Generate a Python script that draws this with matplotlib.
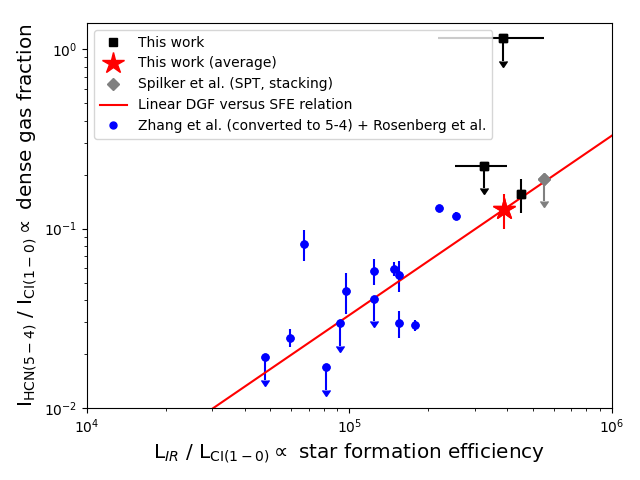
import numpy as np
import matplotlib
matplotlib.use("Agg")
import matplotlib.pyplot as plt

# This work (upper limits with x errors)
tw_ul_x = [385000, 325000]
tw_ul_y = [1.15, 0.224]
tw_ul_xerr = [168000, 73000]
# This work (detection)
tw_x = [450000]
tw_y = [0.156]
tw_yerr = [0.034]
# This work average
avg_x = [388000]
avg_y = [0.128]
avg_yerr = [0.028]
# Spilker stacking (upper limit)
sp_x = [551000]
sp_y = [0.19]
# Zhang + Rosenberg detections
z_x = [59300, 67300, 97200, 124000, 148000, 155000, 155000, 178000, 220000, 255000]
z_y = [0.0247, 0.0822, 0.0451, 0.0584, 0.0597, 0.0553, 0.0296, 0.0289, 0.130, 0.118]
z_yerr = [0.0027, 0.0163, 0.0117, 0.0096, 0.0054, 0.0108, 0.005, 0.0022, 0.002, 0.006]
# Zhang + Rosenberg upper limits
zu_x = [47700, 81400, 92200, 124000]
zu_y = [0.01915, 0.01683, 0.0296, 0.0407]

ul_frac = 0.25

fig, ax = plt.subplots(figsize=(6.4, 4.8), dpi=100)
ax.set_xscale('log')
ax.set_yscale('log')

ax.errorbar(tw_ul_x, tw_ul_y, xerr=tw_ul_xerr, yerr=[ul_frac * v for v in tw_ul_y],
            uplims=True, fmt='ks')
ax.errorbar(tw_x, tw_y, yerr=tw_yerr, fmt='ks')
ax.errorbar(avg_x, avg_y, yerr=avg_yerr, fmt='r*', markersize=16)
ax.errorbar(sp_x, sp_y, yerr=[ul_frac * v for v in sp_y], uplims=True, fmt='D', color='gray')
ax.errorbar(z_x, z_y, yerr=z_yerr, fmt='bo', markersize=5)
ax.errorbar(zu_x, zu_y, yerr=[ul_frac * v for v in zu_y], uplims=True, fmt='bo', markersize=5)

ax.plot(tw_ul_x + tw_x, tw_ul_y + tw_y, 'ks', linestyle='none', label='This work')
ax.plot(avg_x, avg_y, 'r*', markersize=16, linestyle='none', label='This work (average)')
ax.plot(sp_x, sp_y, 'D', color='gray', linestyle='none', label='Spilker et al. (SPT, stacking)')
ratio = avg_y[0] / avg_x[0]
xl = np.array([1e4, 1e6])
ax.plot(xl, ratio * xl, 'r-', label='Linear DGF versus SFE relation')
ax.plot(z_x + zu_x, z_y + zu_y, 'bo', markersize=5, linestyle='none',
        label='Zhang et al. (converted to 5-4) + Rosenberg et al.')

ax.set_xlim(1e4, 1e6)
ax.set_ylim(0.01, 1.4)
ax.set_xlabel(r'L$_{IR}$ / L$_{\rm CI(1-0)}\propto$ star formation efficiency', fontsize='x-large')
ax.set_ylabel(r'I$_{\rm HCN(5-4)}$ / I$_{\rm CI(1-0)} \propto$ dense gas fraction', fontsize='x-large')
ax.legend(loc='upper left')

fig.subplots_adjust(left=0.136, right=0.956, bottom=0.15, top=0.952)
fig.savefig('out.png', dpi=100)
